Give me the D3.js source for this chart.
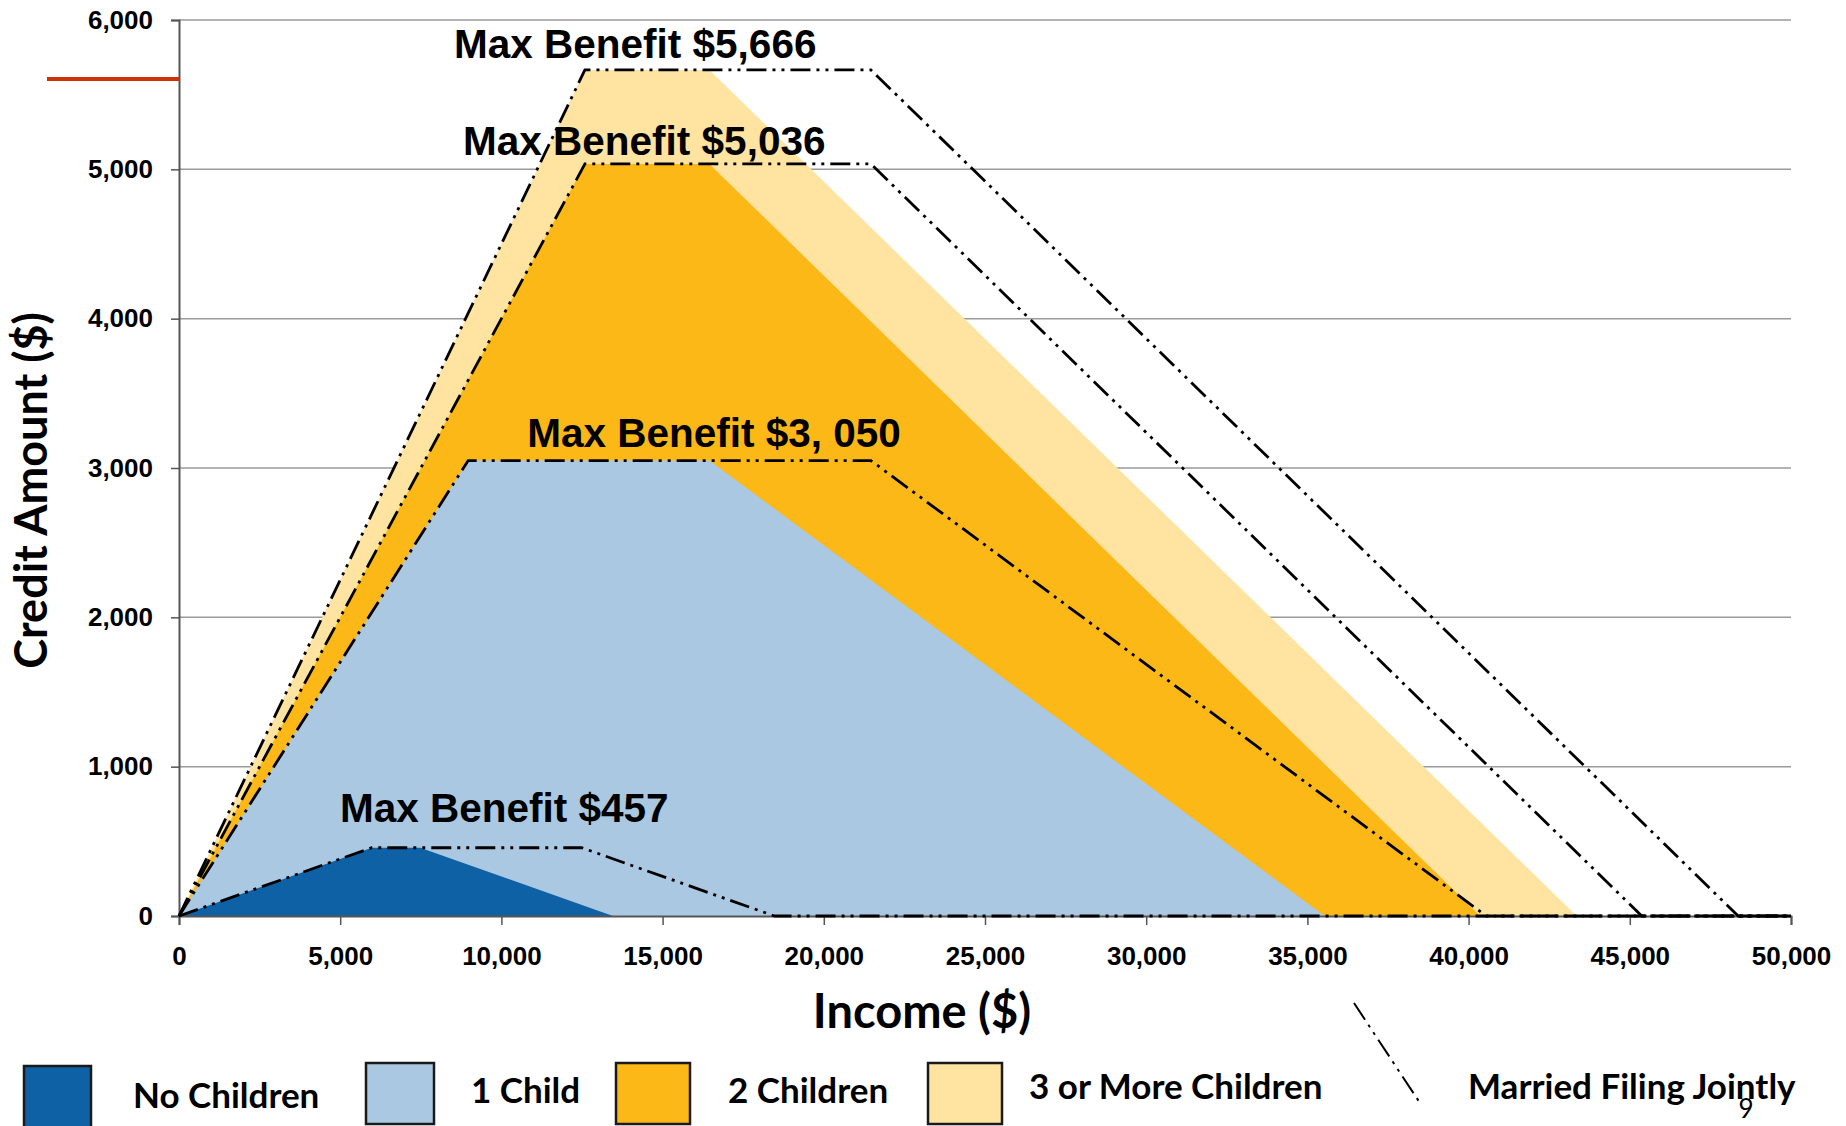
<!DOCTYPE html>
<html>
<head>
<meta charset="utf-8">
<script src="https://cdn.jsdelivr.net/npm/d3@7"></script>
<style>
  body { margin: 0; background: #fff; }
  svg { display: block; }
  .tick text { font-family: "Liberation Sans", Arial, sans-serif; font-weight: bold; font-size: 26px; fill: #000; }
</style>
</head>
<body>
<div class="chart"></div>
<script>
// EITC 2010 schedule: single filers as areas, married filing jointly as lines
const categories = ["No Children", "1 Child", "2 Children", "3 or More Children"];
const phaseInEnd = [5980, 8970, 12590, 12590];
const maxCredit = [457, 3050, 5036, 5666];
const phaseOutStartSingle = [7480, 16450, 16450, 16450];
const phaseOutEndSingle = [13460, 35535, 40363, 43352];
const phaseOutStartJoint = [12490, 21460, 21460, 21460];
const phaseOutEndJoint = [18470, 40545, 45373, 48362];
const benefitLabels = ["Max Benefit $457", "Max Benefit $3, 050", "Max Benefit $5,036", "Max Benefit $5,666"];
const incomeTicks = [0, 5000, 10000, 15000, 20000, 25000, 30000, 35000, 40000, 45000, 50000];
const creditTicks = [0, 1000, 2000, 3000, 4000, 5000, 6000];
const incomeMax = 50000;

const colors = ["#0E61A5", "#AAC8E1", "#FCB817", "#FFE3A1"];
const dash = "20,6,3,6,3,6";

const W = 1846, H = 1126;
const margin = { top: 20, left: 179, right: 55, bottom: 210 };
const width = W - margin.left - margin.right;
const height = H - margin.top - margin.bottom;

const svg = d3.select(".chart")
  .append("svg")
  .attr("width", W)
  .attr("height", H);

const g = svg.append("g")
  .attr("transform", `translate(${margin.left}, ${margin.top})`);

const x = d3.scaleLinear().domain([0, incomeMax]).range([0, width]);
const y = d3.scaleLinear().domain([0, 6000]).range([height, 0]);

// gridlines
g.append("g")
  .selectAll("line")
  .data(creditTicks.filter(d => d > 0))
  .join("line")
  .attr("x1", 0).attr("x2", width)
  .attr("y1", d => y(d)).attr("y2", d => y(d))
  .attr("stroke", "#9a9a9a")
  .attr("stroke-width", 1.5);

const singlePts = i => [
  [0, 0],
  [phaseInEnd[i], maxCredit[i]],
  [phaseOutStartSingle[i], maxCredit[i]],
  [phaseOutEndSingle[i], 0]
];
const jointPts = i => [
  [0, 0],
  [phaseInEnd[i], maxCredit[i]],
  [phaseOutStartJoint[i], maxCredit[i]],
  [phaseOutEndJoint[i], 0],
  [incomeMax, 0]
];

const area = d3.area().x(d => x(d[0])).y0(y(0)).y1(d => y(d[1]));
const line = d3.line().x(d => x(d[0])).y(d => y(d[1]));

const order = [3, 2, 1, 0];

g.append("g")
  .selectAll("path")
  .data(order)
  .join("path")
  .attr("d", i => area(singlePts(i)))
  .attr("fill", i => colors[i]);

// axes
const yAxis = d3.axisLeft(y).tickValues(creditTicks).tickFormat(d3.format(",")).tickSize(8).tickPadding(18);
const yg = g.append("g").call(yAxis);
yg.select(".domain").attr("stroke", "#555").attr("stroke-width", 2);
yg.selectAll(".tick line").attr("stroke", "#555").attr("stroke-width", 1.5);

const xAxis = d3.axisBottom(x).tickValues(incomeTicks).tickFormat(d3.format(",")).tickSize(9).tickPadding(22);
const xg = g.append("g").attr("transform", `translate(0,${height})`).call(xAxis);
xg.select(".domain").attr("stroke", "#555").attr("stroke-width", 2);
xg.selectAll(".tick line").attr("stroke", "#555").attr("stroke-width", 1.5);

// married filing jointly lines
g.append("g")
  .selectAll("path")
  .data(order)
  .join("path")
  .attr("d", i => line(jointPts(i)))
  .attr("fill", "none")
  .attr("stroke", "#000")
  .attr("stroke-width", 2.8)
  .attr("stroke-dasharray", dash);

// max benefit labels: left edge in income units, baseline offset above the plateau
const labelLayout = [
  { x0: 4994, dy: -26 },
  { x0: 10800, dy: -14 },
  { x0: 8810, dy: -9 },
  { x0: 8530, dy: -12 }
];
g.append("g")
  .selectAll("text")
  .data(order)
  .join("text")
  .attr("x", i => x(labelLayout[i].x0))
  .attr("y", i => y(maxCredit[i]) + labelLayout[i].dy)
  .attr("font-family", "Liberation Sans, Arial, sans-serif")
  .attr("font-weight", "bold")
  .attr("font-size", 40.5)
  .text(i => benefitLabels[i]);

// axis titles
svg.append("text")
  .attr("x", 922)
  .attr("y", 1028)
  .attr("text-anchor", "middle")
  .attr("font-family", "Lato, sans-serif")
  .attr("font-weight", "bold")
  .attr("font-size", 47)
  .text("Income ($)");

svg.append("text")
  .attr("transform", `translate(47, ${margin.top + y(2850)}) rotate(-90)`)
  .attr("text-anchor", "middle")
  .attr("font-family", "Lato, sans-serif")
  .attr("font-weight", "bold")
  .attr("font-size", 45)
  .text("Credit Amount ($)");

// red marker on the left
svg.append("line")
  .attr("x1", 47).attr("x2", margin.left)
  .attr("y1", 79).attr("y2", 79)
  .attr("stroke", "#CC3300")
  .attr("stroke-width", 4);

// legend
const legendX = [24, 366, 616, 928];
const legendTextX = [133, 471, 728, 1029];
const lg = svg.append("g");
lg.selectAll("rect")
  .data(d3.range(categories.length))
  .join("rect")
  .attr("x", i => legendX[i])
  .attr("y", i => i === 0 ? 1066 : 1063)
  .attr("width", i => i === 0 ? 67 : (i === 1 ? 68 : 74))
  .attr("height", i => i === 0 ? 62 : 61)
  .attr("fill", i => colors[i])
  .attr("stroke", "#1a1a1a")
  .attr("stroke-width", 2.5);

lg.selectAll("text")
  .data(d3.range(categories.length))
  .join("text")
  .attr("x", i => legendTextX[i])
  .attr("y", i => [1108, 1103, 1103, 1099][i])
  .attr("font-family", "Lato, sans-serif")
  .attr("font-weight", "bold")
  .attr("font-size", 35)
  .text(i => categories[i]);

lg.append("line")
  .attr("x1", 1354).attr("y1", 1003)
  .attr("x2", 1420).attr("y2", 1103)
  .attr("stroke", "#000")
  .attr("stroke-width", 2)
  .attr("stroke-dasharray", dash);

lg.append("text")
  .attr("x", 1468)
  .attr("y", 1099)
  .attr("font-family", "Lato, sans-serif")
  .attr("font-weight", "bold")
  .attr("font-size", 35)
  .text("Married Filing Jointly");

svg.append("text")
  .attr("x", 1746)
  .attr("y", 1118)
  .attr("text-anchor", "middle")
  .attr("font-family", "Lato, sans-serif")
  .attr("font-size", 26)
  .text("9");
</script>
</body>
</html>
